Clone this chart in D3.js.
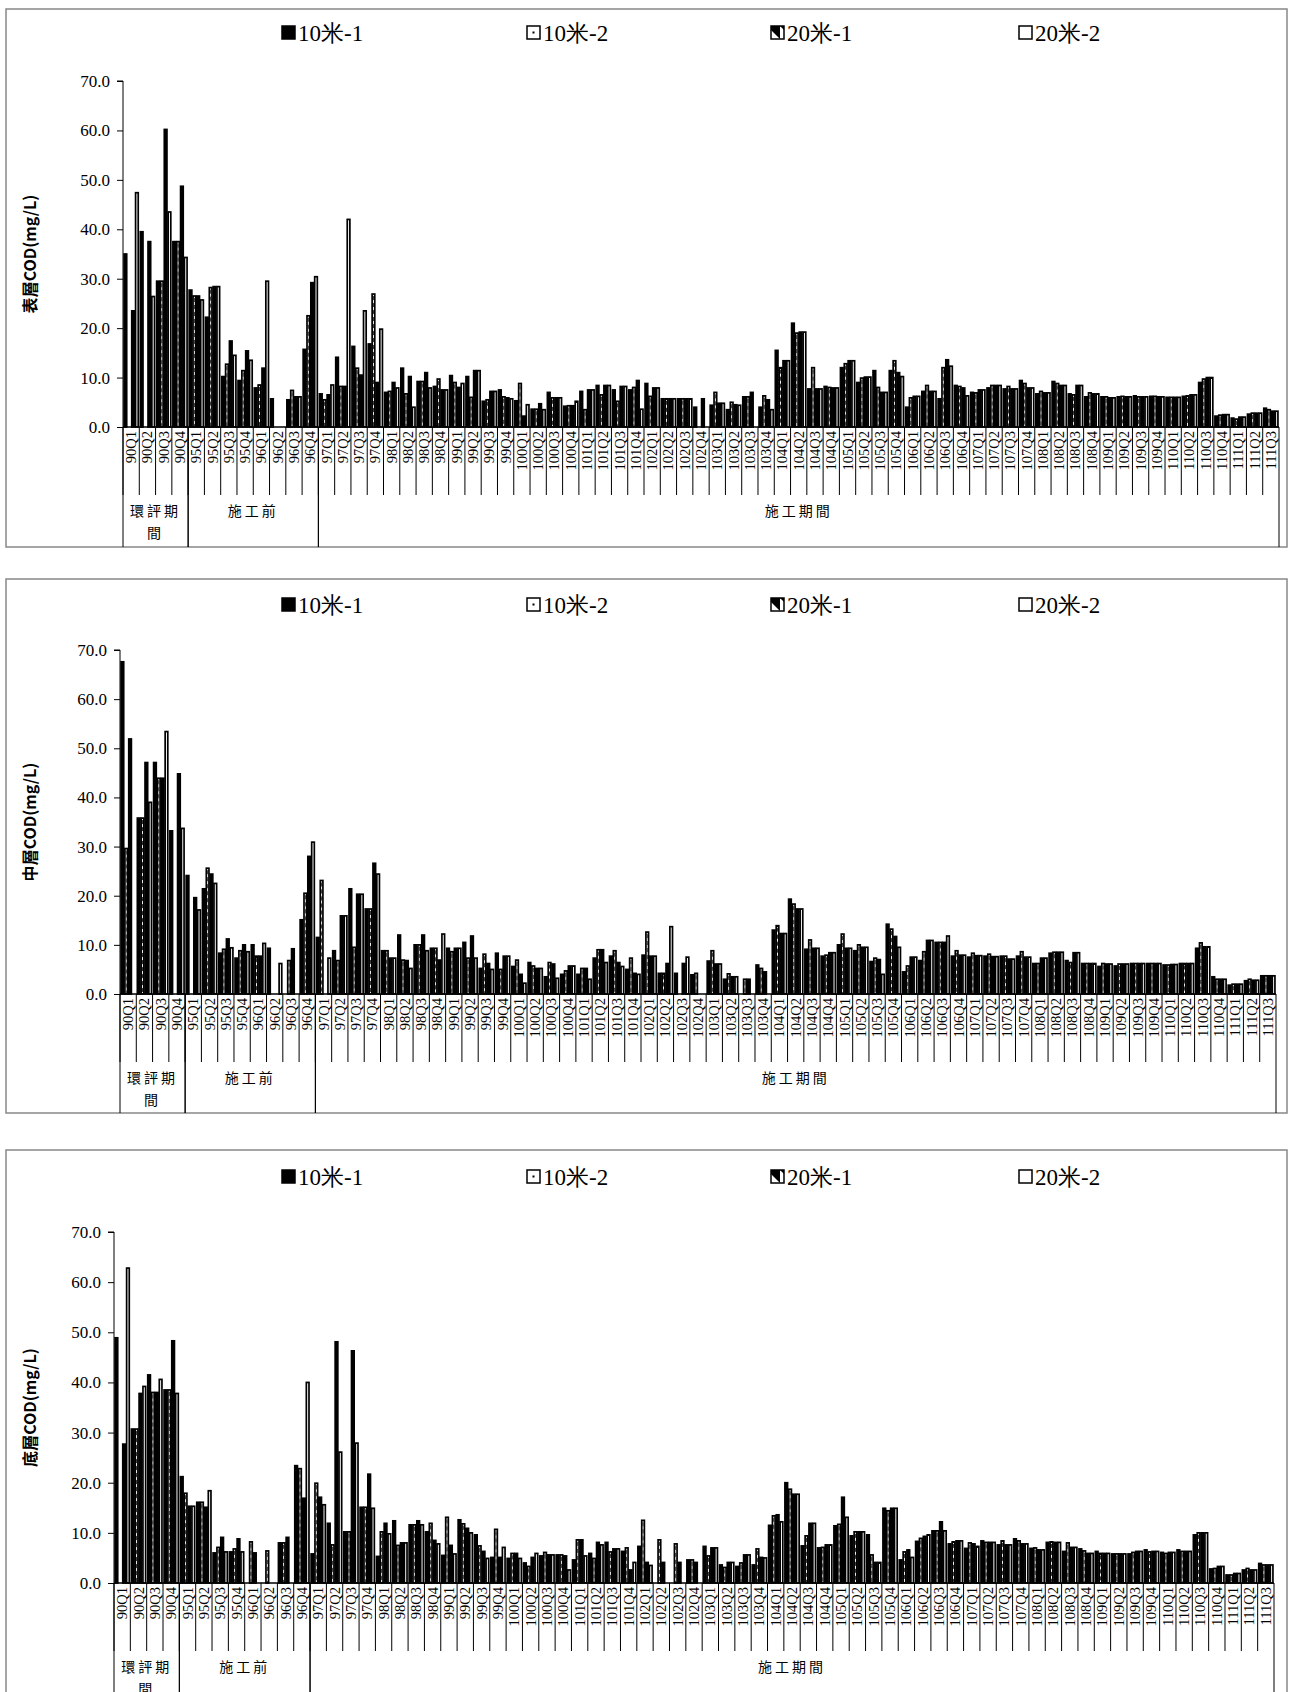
<!DOCTYPE html>
<html><head><meta charset="utf-8">
<script src="https://cdn.jsdelivr.net/npm/d3@7"></script>
<style>body{margin:0;background:#fff}</style>
</head><body>
<script>
const seriesNames = ["10米-1","10米-2","20米-1","20米-2"];
const yTicks = [0,10,20,30,40,50,60,70];
const categories = [];
[90,95,96].forEach(y=>{for(let q=1;q<=4;q++)categories.push(y+"Q"+q);});
for(let y=97;y<=111;y++)for(let q=1;q<=4;q++){if(y===111&&q===4)break;categories.push(y+"Q"+q);}
const groups = [{name:["環評期","間"],from:0,to:4},{name:["施工前"],from:4,to:12},{name:["施工期間"],from:12,to:71}];

const surfaceRows = [
[35,null,23.5,47.4],[39.5,null,37.5,26.4],[29.5,29.5,60.2,43.5],[37.5,37.5,48.7,34.3],
[27.7,26.5,26.5,25.7],[22.2,28.2,28.4,28.4],[10.2,12.7,17.4,14.5],[9.4,11.4,15.4,13.5],
[7.9,8.5,11.9,29.5],[5.7,null,null,null],[5.5,7.4,6.1,6.1],[15.7,22.5,29.2,30.4],
[6.7,5.5,6.5,8.5],[14.1,8.2,8.2,42],[16.3,11.9,10.5,23.5],[16.8,26.9,9,19.8],
[7,7.2,9,7.9],[11.9,6.7,10.2,4],[9.2,9.2,11,7.9],[8.2,9.7,7.5,7.5],
[10.4,9,8,8.8],[10.2,6,11.4,11.4],[5.2,5.5,7.2,7.2],[7.5,6.1,5.9,5.7],
[5.3,8.8,2.2,4.5],[3.6,3.6,4.7,3.5],[7,5.9,5.9,5.9],[4.2,4.3,4.3,5.2],
[7.2,3.5,7.5,7.5],[8.4,6.5,8.4,8.4],[7.5,5.2,8.2,8.2],[7.5,8,9.4,3.6],
[8.8,6.2,7.9,7.9],[5.7,5.7,5.7,5.7],[5.7,5.7,5.7,5.7],[4,null,5.7,null],
[4.4,7,4.8,4.8],[3.5,5,4.5,4.4],[6.1,6.1,7,null],[4,6.3,5.5,3.5],
[15.5,12,13.4,13.4],[21,19,19.2,19.2],[7.7,12,7.7,7.7],[8.2,8,7.9,7.9],
[12,12.8,13.4,13.4],[9,9.9,10.1,10.1],[11.4,8,7,7],[11.4,13.4,11,10.2],
[4,5.9,6.2,6.2],[7.2,8.4,7.2,7.2],[5.7,12,13.6,12.3],[8.4,8.2,7.9,6.3],
[7,6.9,7.5,7.5],[7.9,8.4,8.4,8.4],[7.7,8.2,7.7,7.7],[9.4,8.8,7.9,7.9],
[6.7,7.2,6.9,6.9],[9.2,8.8,8.4,8.4],[6.7,6.5,8.4,8.4],[6.1,6.9,6.7,6.7],
[6.1,6.1,5.9,5.9],[6.1,6.2,6.1,6.1],[6.3,6.1,6.1,6.1],[6.2,6.2,6.1,6.1],
[6,6,6,6],[6.2,6.3,6.5,6.5],[9,9.7,10,10],[2.2,2.4,2.5,2.5],
[1.8,1.6,2,2],[2.6,2.8,2.8,2.8],[3.8,3.5,3.2,3.2]
];
const middleRows = [
[67.6,29.6,51.9,null],[35.8,35.8,47.1,39],[47.1,43.9,43.9,53.4],[33.2,null,44.8,33.7],
[24.1,null,19.6,17.1],[21.4,25.6,24.4,22.5],[8.3,9.1,11.2,9.4],[7.3,8.8,10,8.6],
[10,7.7,7.7,10.3],[9.3,null,null,6.2],[null,6.8,9.2,null],[15.1,20.5,28,30.9],
[11.5,23.1,null,7.3],[8.8,6.8,15.9,15.9],[21.4,9.5,20.3,20.3],[17.3,17.3,26.6,24.4],
[8.8,8.8,7.3,7.3],[12,6.9,6.8,5.2],[10,10,12,8.8],[9.3,9.3,6.9,12.2],
[9.3,8.6,9.3,9.3],[10.5,7.3,11.8,7.3],[5.2,8.1,6.2,5],[8.3,5,7.7,7.7],
[5.6,6.9,4,2.2],[6.4,5.7,5.2,5.2],[3.5,6.4,6.1,3.2],[4,4.7,5.7,5.7],
[4,5.2,5.2,3],[7.3,9,9,6.4],[7.7,8.8,6.4,5.6],[5,7.3,4.2,4],
[7.9,12.6,7.7,7.7],[4.2,4.2,6.2,13.7],[4.2,null,6.2,7.5],[3.9,4.2,null,null],
[6.7,8.8,6.1,6.1],[3,4.1,3.5,3.5],[null,3,3,null],[5.9,5.2,4.5,null],
[13,13.9,12.3,12.3],[19.3,18.3,17.3,17.3],[9.1,11,9.3,9.3],[7.7,7.9,8.4,8.4],
[10,12.2,9.3,9.3],[8.8,10,9.5,9.5],[6.6,7.3,7,4],[14.2,13.2,11.7,9.5],
[4.5,5.7,7.5,7.5],[6.8,8.6,10.9,10.9],[10.5,10.5,10.5,11.8],[7.7,8.8,7.9,7.9],
[7.5,8.3,7.8,7.8],[7.7,8.1,7.6,7.6],[7.7,7.7,7.1,7.1],[7.7,8.6,7.5,7.5],
[6.2,6.2,7.3,7.3],[8.3,8.5,8.5,8.5],[6.8,6.4,8.4,8.4],[6.2,6.2,6.2,6.2],
[5.6,6.2,6.1,6.1],[5.7,6.1,6.1,6.1],[6.2,6.2,6.2,6.2],[6.2,6.2,6.2,6.2],
[5.9,5.9,6,6],[6.2,6.2,6.2,6.2],[9.3,10.4,9.6,9.6],[3.5,3,3,3],
[1.8,2,2,2],[2.7,3,2.8,2.8],[3.7,3.7,3.7,3.7]
];
const bottomRows = [
[48.9,null,27.7,62.8],[30.7,30.7,37.8,39.2],[41.5,38,38,40.6],[38.5,38.5,48.3,37.8],
[21.2,17.9,15.3,15.3],[16.1,16.1,15.1,18.4],[6,7.1,9.1,6.2],[6.2,6.8,8.8,6.2],
[null,8.2,6,null],[null,6.4,null,null],[8,8,9.1,null],[23.4,22.8,16.9,40],
[5.8,19.9,17.1,15.6],[11.9,7.6,48.1,26.1],[10.2,10.2,46.3,27.9],[15.1,15.1,21.7,14.9],
[5.3,10.2,11.9,9.8],[12.4,7.5,8,8],[11.6,11.6,12.4,11.6],[10.2,11.9,8.5,7.8],
[5.5,13.1,7.5,5.8],[12.6,11.8,10.9,10],[9.6,7.4,6.3,4.9],[5.1,10.7,5.1,7.1],
[4.9,5.9,5.9,4.9],[4,3.3,5.1,5.9],[5.4,6.1,5.6,5.6],[5.6,5.6,5.4,2.6],
[4.6,8.6,8.6,5.4],[5.9,4.9,8.1,7.6],[8.1,6.2,6.8,6.8],[6.3,7,2.6,4.1],
[7.3,12.5,4.1,3.5],[null,8.6,4.1,null],[null,7.8,4.1,null],[4.6,4.6,4.1,null],
[7.3,5.4,7,7],[3.6,3.1,4.1,4.1],[3.3,4,5.6,5.6],[3.6,6.8,5.1,5],
[11.5,13.4,13.6,12.2],[20,18.7,17.7,17.7],[7.4,9.4,11.9,11.9],[7,7.1,7.6,7.6],
[11.4,11.7,17.1,13.1],[9.4,10.2,10.2,10.2],[9.6,5.6,4.1,4.1],[14.9,14.4,14.9,14.9],
[4.6,6.2,6.6,5.1],[8.3,8.9,9.3,9.6],[10.4,10.4,12.2,10.4],[7.8,8.2,8.4,8.4],
[6.9,8,7.8,7.3],[8.4,8.1,8.1,8.1],[7.6,8.4,7.6,7.6],[8.8,8.4,7.8,7.8],
[6.9,7,6.6,6.6],[8.1,8.2,8.1,8.1],[6.3,8,7.1,7.1],[6.8,6.4,5.9,5.9],
[6.3,5.9,5.9,5.9],[5.8,5.8,5.8,5.8],[5.8,6.1,6.3,6.3],[6.6,6.2,6.3,6.3],
[6.1,5.9,6.1,6.1],[6.6,6.3,6.3,6.3],[9.6,10,10,10],[2.8,2.9,3.3,3.3],
[1.6,1.6,1.9,1.9],[2.6,2.9,2.6,2.6],[3.9,3.6,3.6,3.6]
];

const W=1292,H=1692;
const svg=d3.select("body").append("svg").attr("width",W).attr("height",H);
const defs=svg.append("defs");
const p1=defs.append("pattern").attr("id","dots").attr("width",13).attr("height",13).attr("patternUnits","userSpaceOnUse");
p1.append("rect").attr("width",13).attr("height",13).attr("fill","#fff");
const p2=defs.append("pattern").attr("id","diag").attr("width",13).attr("height",13).attr("patternUnits","userSpaceOnUse");
p2.append("rect").attr("width",13).attr("height",13).attr("fill","#fff");
p2.append("path").attr("d","M0,0 L13,0 L13,13 Z").attr("fill","#000");

const serif="'Liberation Serif','Times New Roman',serif";
const panels=[
 {rows:surfaceRows,title:"表層COD(mg/L)",box:[6,9,1281,538],x0:123,x1:1279,y0:427,yT:81,ly:33},
 {rows:middleRows,title:"中層COD(mg/L)",box:[6,579,1281,534],x0:120,x1:1276,y0:994,yT:650,ly:605},
 {rows:bottomRows,title:"底層COD(mg/L)",box:[6,1150,1281,560],x0:114,x1:1274,y0:1583,yT:1232,ly:1177}
];
const barFill=["#000","#fff","#000","#fff"];
panels.forEach(P=>{
  const g=svg.append("g");
  g.append("rect").attr("x",P.box[0]).attr("y",P.box[1]).attr("width",P.box[2]).attr("height",P.box[3])
   .attr("fill","none").attr("stroke","#888").attr("stroke-width",1.5);
  const x=d3.scaleBand().domain(categories).range([P.x0,P.x1]).paddingInner(0).paddingOuter(0);
  const xs=d3.scaleBand().domain(d3.range(4)).range([0,x.bandwidth()]).paddingInner(0).paddingOuter(0.12);
  const y=d3.scaleLinear().domain([0,70]).range([P.y0,P.yT]);
  const ya=g.append("g").attr("transform",`translate(${P.x0},0)`)
    .call(d3.axisLeft(y).tickValues(yTicks).tickFormat(d3.format(".1f")).tickSize(6));
  ya.select(".domain").attr("stroke","#000").attr("d",`M-6,${y(70)}H0V${y(0)}`);
  ya.selectAll("text").attr("font-family",serif).attr("font-size",17).attr("fill","#000").attr("dx",-4);
  g.append("text").attr("transform",`translate(36,${(P.y0+P.yT)/2}) rotate(-90)`).attr("text-anchor","middle")
   .attr("font-family","'Noto Sans CJK TC',"+serif).attr("font-weight","bold").attr("font-size",16).text(P.title);
  categories.forEach((c,i)=>{
    P.rows[i].forEach((v,s)=>{
      if(v==null)return;
      const bw=xs.bandwidth();
      g.append("rect").attr("x",x(c)+xs(s)+0.6).attr("y",y(v)).attr("width",Math.max(bw-1.2,1)).attr("height",y(0)-y(v))
       .attr("fill",barFill[s]).attr("stroke","#000").attr("stroke-width",1.7);
      if(s===1&&bw>2){g.append("line").attr("x1",x(c)+xs(s)+bw/2).attr("x2",x(c)+xs(s)+bw/2).attr("y1",y(v)+2).attr("y2",y(0))
        .attr("stroke","#000").attr("stroke-width",0.8).attr("stroke-dasharray","4,3");}
    });
  });
  g.append("line").attr("x1",P.x0).attr("x2",P.x1).attr("y1",P.y0).attr("y2",P.y0).attr("stroke","#000").attr("stroke-width",1.3);
  const lab=68;
  categories.forEach((c,i)=>{
    g.append("line").attr("x1",x(c)).attr("x2",x(c)).attr("y1",P.y0).attr("y2",P.y0+lab).attr("stroke","#000");
    g.append("text").attr("transform",`translate(${x(c)+x.bandwidth()/2+5},${P.y0+4}) rotate(-90)`)
     .attr("text-anchor","end").attr("font-family",serif).attr("font-size",14.5).text(c);
  });
  groups.forEach(gr=>{
    const xa=gr.from<categories.length?x(categories[gr.from]):P.x1;
    const xb=gr.to<categories.length?x(categories[gr.to]):P.x1;
    [xa,xb].forEach(xx=>g.append("line").attr("x1",xx).attr("x2",xx).attr("y1",P.y0).attr("y2",P.box[1]+P.box[3]).attr("stroke","#000"));
    gr.name.forEach((t,k)=>g.append("text").attr("x",(xa+xb)/2).attr("y",P.y0+89+k*22).attr("text-anchor","middle")
      .attr("font-family","'Noto Sans CJK TC',sans-serif").attr("font-size",14).attr("letter-spacing",3).text(t));
  });
  const lx=[282,527,771,1019];
  const lf=["#000","url(#dots)","url(#diag)","#fff"];
  seriesNames.forEach((n,k)=>{
    g.append("rect").attr("x",lx[k]).attr("y",P.ly-7).attr("width",13).attr("height",13).attr("fill",lf[k]).attr("stroke","#000").attr("stroke-width",1.5);
    if(k===1)g.append("rect").attr("x",lx[k]+5.5).attr("y",P.ly-1.5).attr("width",2).attr("height",2).attr("fill","#000");
    g.append("text").attr("x",lx[k]+16).attr("y",P.ly+8).attr("font-family",serif).attr("font-size",23).text(n);
  });
});
</script>
</body></html>
